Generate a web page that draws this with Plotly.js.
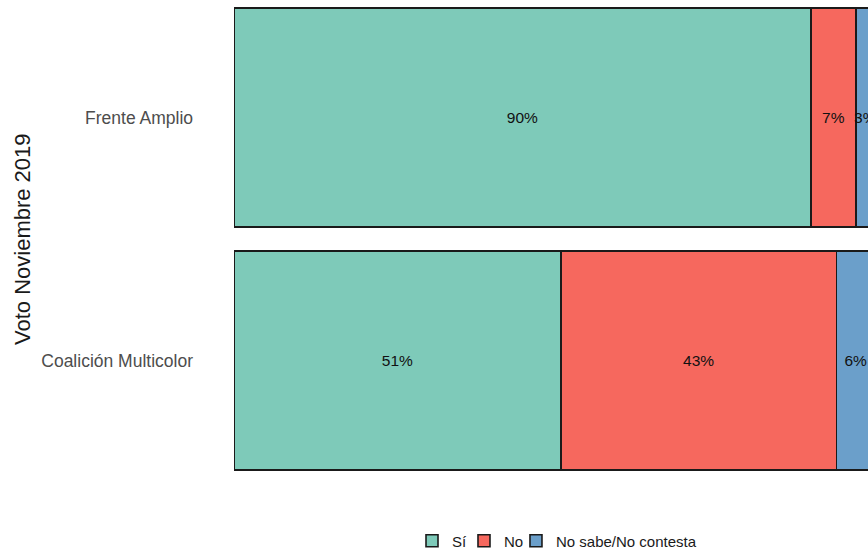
<!DOCTYPE html>
<html>
<head>
<meta charset="utf-8">
<script src="https://cdn.plot.ly/plotly-3.0.1.min.js"></script>
<style>
html,body{margin:0;padding:0;overflow:hidden;background:#fff;}
#chart{width:880px;height:552px;}
</style>
</head>
<body>
<div id="chart"></div>
<script>
// Data
const categories = ['Coalición Multicolor', 'Frente Amplio'];
const seriesNames = ['Sí', 'No', 'No sabe/No contesta'];
const valuesSi = [51, 90];
const valuesNo = [43, 7];
const valuesNS = [6, 3];
const seriesColors = ['#7ECAB9', '#F6685E', '#6B9FCA'];

const allValues = [valuesSi, valuesNo, valuesNS];
const legendIds = ['legend', 'legend2', 'legend3'];
const legendX = [0.2777, 0.3588, 0.4399];

const traces = allValues.map((vals, i) => ({
  type: 'bar',
  orientation: 'h',
  name: seriesNames[i],
  legend: legendIds[i],
  y: categories,
  x: vals,
  text: vals.map(v => v + '%'),
  textposition: 'inside',
  insidetextanchor: 'middle',
  textangle: 0,
  textfont: {family: 'Liberation Sans, Arial, sans-serif', size: 15.5, color: '#111'},
  marker: {color: seriesColors[i], line: {color: '#1a1a1a', width: 1.6}},
  hoverinfo: 'skip'
}));

const layout = {
  width: 880,
  height: 552,
  margin: {l: 234, r: 5, t: 0, b: 74, autoexpand: false},
  paper_bgcolor: '#fff',
  plot_bgcolor: '#fff',
  barmode: 'stack',
  bargap: 0.1,
  showlegend: true,
  uniformtext: {mode: 'show', minsize: 15.5},
  font: {family: 'Liberation Sans, Arial, sans-serif'},
  xaxis: {
    range: [0, 100],
    showticklabels: false,
    showgrid: false,
    zeroline: false,
    showline: false,
    ticks: ''
  },
  yaxis: {
    type: 'category',
    categoryorder: 'array',
    categoryarray: categories,
    range: [-0.4835, 1.4835],
    showgrid: false,
    zeroline: false,
    showline: false,
    ticks: '',
    ticklabelstandoff: 40,
    tickfont: {family: 'Liberation Sans, Arial, sans-serif', size: 17.5, color: '#4d4d4d'}
  },
  annotations: [{
    text: 'Voto Noviembre 2019',
    xref: 'paper', yref: 'paper',
    x: -0.3307, y: 0.5,
    xanchor: 'center', yanchor: 'middle',
    textangle: -90,
    showarrow: false,
    font: {family: 'Liberation Sans, Arial, sans-serif', size: 22, color: '#1a1a1a'}
  }]
};

legendIds.forEach((id, i) => {
  layout[id] = {
    orientation: 'h',
    x: legendX[i],
    xanchor: 'left',
    y: -0.1318,
    yanchor: 'middle',
    bgcolor: 'rgba(0,0,0,0)',
    font: {family: 'Liberation Sans, Arial, sans-serif', size: 15, color: '#1a1a1a'}
  };
});

Plotly.newPlot('chart', traces, layout, {displayModeBar: false, staticPlot: true});
</script>
</body>
</html>
